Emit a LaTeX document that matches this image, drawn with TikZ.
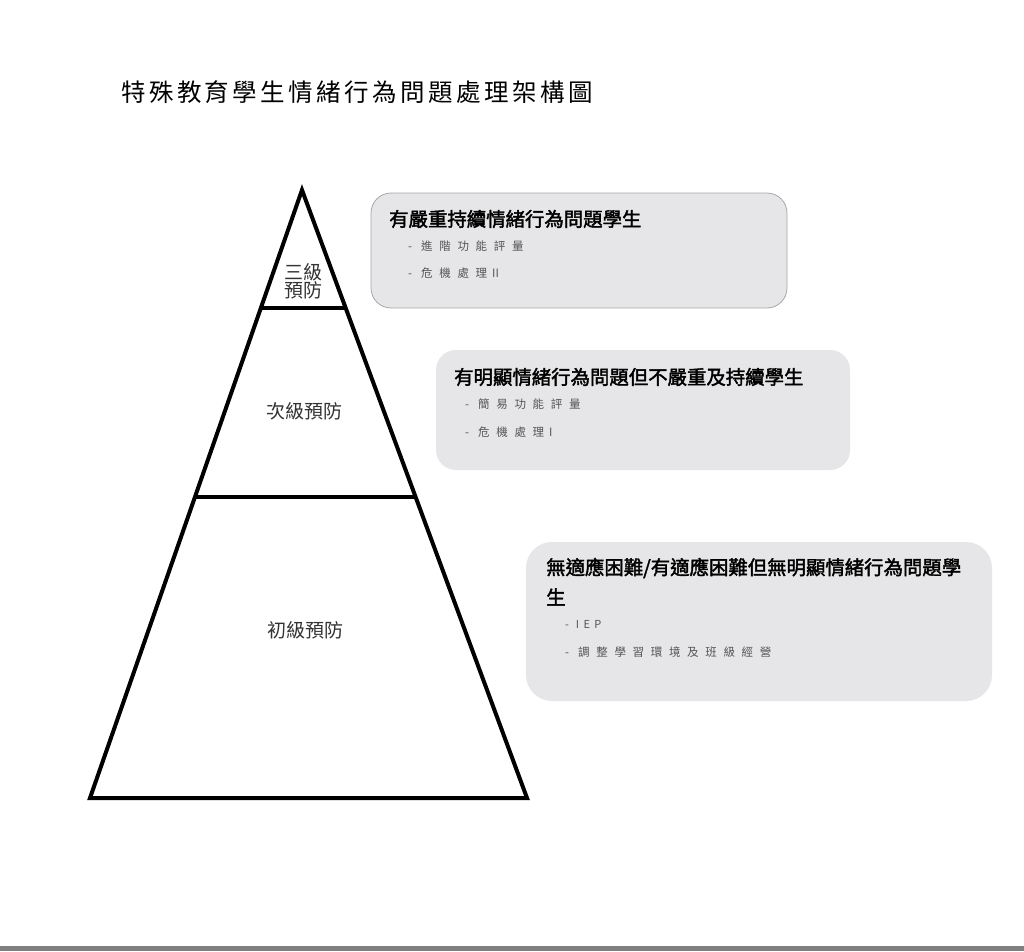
\documentclass[tikz,border=0pt]{standalone}
\usepackage{fontspec}
\newfontfamily\cjk{Noto Sans CJK TC}
\newfontfamily\cjkhead{Noto Sans CJK TC}[FakeBold=2]
\newfontfamily\cjkspaced{Noto Sans CJK TC}[LetterSpace=58]
\newfontfamily\cjktitle{Noto Sans CJK TC}[LetterSpace=14]
\definecolor{boxfill}{HTML}{E6E5E7}
\definecolor{boxline}{HTML}{A8A8A8}
\definecolor{labtxt}{HTML}{333333}
\definecolor{subtxt}{HTML}{555555}
\definecolor{band}{HTML}{808080}
\tikzset{
  pyr/.style={line width=4pt, line join=miter},
  card/.style={fill=boxfill, rounded corners=20pt},
  head/.style={anchor=west, inner sep=0pt, font=\cjkhead\fontsize{19.4}{26}\selectfont, text=black},
  item/.style={anchor=west, inner sep=0pt, font=\cjkspaced\fontsize{11.5}{13}\selectfont, text=subtxt},
  lvl/.style={inner sep=0pt, font=\cjk\fontsize{19}{21}\selectfont, text=labtxt, align=center},
}
\begin{document}
\begin{tikzpicture}[x=1pt,y=-1pt]
\useasboundingbox[fill=white] (0,0) rectangle (1024,951);
\fill[band] (0,946) rectangle (1024,951);
% title
\node[anchor=west, inner sep=0pt, font=\cjktitle\fontsize{24.5}{28}\selectfont] (title) at (121,92) {特殊教育學生情緒行為問題處理架構圖};
% pyramid
\coordinate (apex) at (302,190);
\coordinate (bl) at (90,798);
\coordinate (br) at (527,798);
\coordinate (l1) at (261,308);
\coordinate (r1) at (345,308);
\coordinate (l2) at (196,497);
\coordinate (r2) at (414,497);
\draw[pyr] (apex) -- (br) -- (bl) -- cycle;
\draw[pyr] (l1) -- (r1);
\draw[pyr] (l2) -- (r2);
\node[lvl] (lv3) at (303,281) {三級\\[-3pt]預防};
\node[lvl] (lv2) at (304,411) {次級預防};
\node[lvl] (lv1) at (305,630) {初級預防};
% card 1
\path[card, draw=boxline, line width=0.8pt] (371,193) rectangle (787,308);
\node[head] (h1) at (389,219) {有嚴重持續情緒行為問題學生};
\node[item] (a1) at (408,246) {-\hspace{9pt}進階功能評量};
\node[item] (b1) at (408,273) {-\hspace{9pt}危機處理\hspace{5pt}{\cjk II}};
% card 2
\path[card] (436,350) rectangle (850,470);
\node[head] (h2) at (454,377) {有明顯情緒行為問題但不嚴重及持續學生};
\node[item] (a2) at (465,404) {-\hspace{9pt}簡易功能評量};
\node[item] (b2) at (465,432) {-\hspace{9pt}危機處理\hspace{5pt}{\cjk I}};
% card 3
\path[card, rounded corners=26pt] (526,542) rectangle (992,701);
\node[head] (h3) at (546,568) {無適應困難/有適應困難但無明顯情緒行為問題學};
\node[head] (h3b) at (546,597) {生};
\node[item, font=\cjk\fontsize{11}{13}\selectfont\addfontfeature{LetterSpace=40}] (a3) at (565,624) {- IEP};
\node[item] (b3) at (565,652) {-\hspace{9pt}調整學習環境及班級經營};
\end{tikzpicture}
\end{document}
